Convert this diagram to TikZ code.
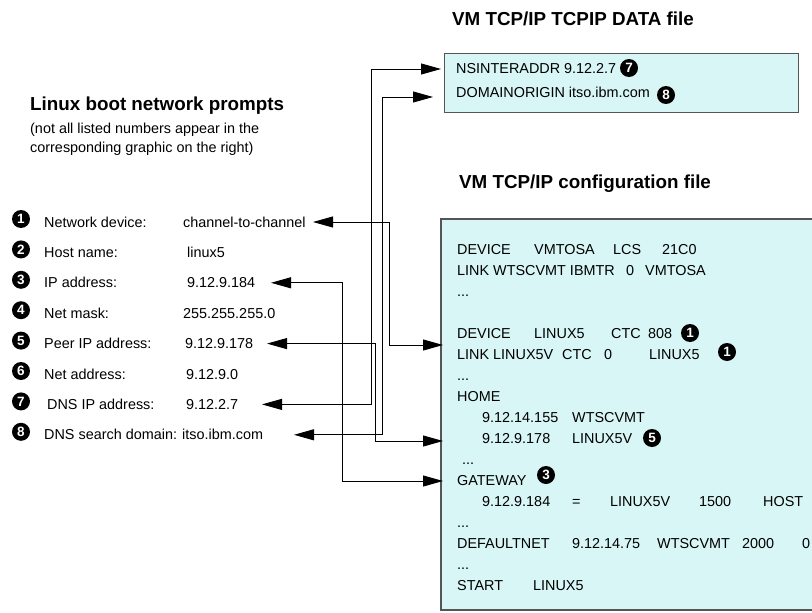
\documentclass[tikz,border=0pt]{standalone}
\usepackage{fontspec}
\setmainfont{Liberation Sans}
\usetikzlibrary{arrows.meta}
\definecolor{boxfill}{RGB}{216,246,246}
\definecolor{boxline}{RGB}{85,85,85}
\newcommand{\colbx}[2]{\makebox[#1pt][l]{#2}}
\begin{document}
\begin{tikzpicture}[x=1pt,y=-1pt,
  txt/.style={anchor=base west, inner sep=0pt, font=\fontsize{14.4}{17}\selectfont},
  ttl/.style={anchor=base west, inner sep=0pt, font=\fontsize{18.8}{22}\selectfont\bfseries},
  num/.style={circle, fill=black, text=white, minimum size=18pt, inner sep=0pt, font=\fontsize{13.5}{13.5}\selectfont\bfseries},
  conn/.style={draw=black, line width=0.9pt, {Triangle[length=20pt,width=11pt]}-{Triangle[length=20pt,width=11pt]}},
  filebox/.style={fill=boxfill, draw=boxline, line width=1pt}]
\useasboundingbox (0,0) rectangle (812,613);
\fill[white] (0,0) rectangle (812,613);

% ---------- titles ----------
\node[ttl] (tdata) at (452,25) {VM TCP/IP TCPIP DATA file};
\node[ttl] (tconf) at (459,188) {VM TCP/IP configuration file};
\node[ttl] (tlin) at (30,110) {Linux boot network prompts};
\node[txt] (sub1) at (30,133) {(not all listed numbers appear in the};
\node[txt] (sub2) at (30,152) {corresponding graphic on the right)};

% ---------- boxes ----------
\path[filebox] (444,53) rectangle (798,112);
\fill[boxfill] (441,219) rectangle (815,610);
\draw[boxline, line width=1.2pt] (815,219) -- (441,219) -- (441,610) -- (815,610);

% ---------- data file ----------
\node[txt] (d1) at (456,73) {NSINTERADDR 9.12.2.7};
\node[num] (dn7) at (629,68) {7};
\node[txt] (d2) at (456,97) {DOMAINORIGIN itso.ibm.com};
\node[num] (dn8) at (666,95) {8};

% ---------- left list ----------
\foreach \k/\lab/\val/\vx/\lx in {
  1/Network device:/channel-to-channel/183/44,
  2/Host name:/linux5/187/44,
  3/IP address:/9.12.9.184/187/44,
  4/Net mask:/255.255.255.0/183/44,
  5/Peer IP address:/9.12.9.178/185/44,
  6/Net address:/9.12.9.0/186/44,
  7/DNS IP address:/9.12.2.7/186/47,
  8/DNS search domain:/itso.ibm.com/182/44}{
  \pgfmathsetmacro{\yy}{222+30.4*(\k-1)}
  \node[num] (n\k) at (21,\yy-3) {\k};
  \node[txt] (l\k) at (\lx,\yy+5) {\lab};
  \node[txt] (v\k) at (\vx,\yy+5) {\val};
}

% ---------- configuration file ----------
\node[txt] (c1) at (457,254) {\colbx{77}{DEVICE}\colbx{79}{VMTOSA}\colbx{49}{LCS}21C0};
\node[txt] (c2) at (457,275) {\colbx{169}{LINK WTSCVMT IBMTR}\colbx{19}{0}VMTOSA};
\node[txt] (c3) at (457,296) {...};
\node[txt] (c5) at (457,338) {\colbx{77}{DEVICE}\colbx{77}{LINUX5}\colbx{37}{CTC}808};
\node[num] (cn1a) at (690,333) {1};
\node[txt] (c6) at (457,359) {\colbx{105}{LINK LINUX5V}\colbx{42}{CTC}\colbx{45}{0}LINUX5};
\node[num] (cn1b) at (727,352) {1};
\node[txt] (c7) at (457,380) {...};
\node[txt] (c8) at (457,401) {HOME};
\node[txt] (c9) at (482,422) {\colbx{90}{9.12.14.155}WTSCVMT};
\node[txt] (c10) at (482,443) {\colbx{90}{9.12.9.178}LINUX5V};
\node[num] (cn5) at (652,438) {5};
\node[txt] (c11) at (462,464) {...};
\node[txt] (c12) at (457,485) {GATEWAY};
\node[num] (cn3) at (546,475) {3};
\node[txt] (c13) at (482,506) {\colbx{90}{9.12.9.184}\colbx{38}{=}\colbx{89}{LINUX5V}\colbx{64}{1500}HOST};
\node[txt] (c14) at (457,527) {...};
\node[txt] (c15) at (457,548) {\colbx{115}{DEFAULTNET}\colbx{85}{9.12.14.75}\colbx{85}{WTSCVMT}\colbx{60}{2000}0};
\node[txt] (c16) at (457,569) {...};
\node[txt] (c17) at (457,590) {\colbx{76}{START}LINUX5};

% ---------- connectors ----------
\coordinate (a1) at (313,222);   \coordinate (k1) at (389,345); \coordinate (b1) at (443,345);
\coordinate (a3) at (271,282.8); \coordinate (k3) at (342,481); \coordinate (b3) at (443,481);
\coordinate (a5) at (267,343.6); \coordinate (k5) at (375,441); \coordinate (b5) at (443,441);
\coordinate (a7) at (262,404.4); \coordinate (k7) at (371,69);  \coordinate (b7) at (441,69);
\coordinate (a8) at (294,434.8); \coordinate (k8) at (382,97);  \coordinate (b8) at (433,97);
\draw[conn] (a1) -| (k1) -- (b1);
\draw[conn] (a3) -| (k3) -- (b3);
\draw[conn] (a5) -| (k5) -- (b5);
\draw[conn] (a7) -| (k7) -- (b7);
\draw[conn] (a8) -| (k8) -- (b8);
\end{tikzpicture}
\end{document}
